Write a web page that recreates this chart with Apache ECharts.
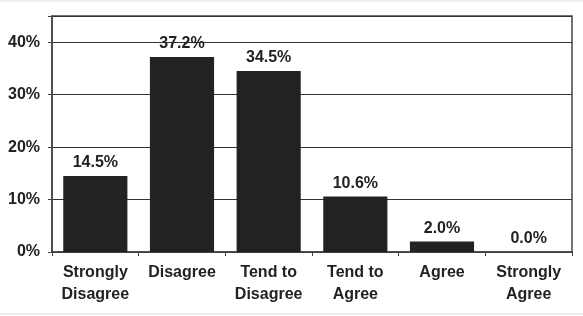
<!DOCTYPE html>
<html><head><meta charset="utf-8">
<script src="https://cdn.jsdelivr.net/npm/echarts@6/dist/echarts.min.js"></script>
<style>html,body{margin:0;padding:0;background:#fff;}#c{width:583px;height:316px;}
.ln{position:absolute;left:0;width:583px;height:2px;background:#eeeeee;}</style>
</head><body><div id="c"></div><div class="ln" style="top:0"></div><div class="ln" style="top:313px"></div>
<script>
const categories = ['Strongly\nDisagree','Disagree','Tend to\nDisagree','Tend to\nAgree','Agree','Strongly\nAgree'];
const values = [14.5, 37.2, 34.5, 10.6, 2.0, 0.0];
const yTicks = [0, 10, 20, 30, 40];

const chart = echarts.init(document.getElementById('c'));
const font = 'Liberation Sans, Arial, sans-serif';
chart.setOption({
  animation: false,
  grid: {left: 52, right: 11, top: 16, bottom: 64, show: true, borderColor: '#444', borderWidth: 1.5, backgroundColor: '#fff'},
  xAxis: {
    type: 'category', data: categories,
    axisLine: {lineStyle: {color: '#444', width: 1.5}},
    axisTick: {show: true, length: 4, lineStyle: {color: '#444'}},
    axisLabel: {interval: 0, hideOverlap: false, color: '#222', fontFamily: font, fontWeight: 'bold', fontSize: 16, lineHeight: 22, margin: 10}
  },
  yAxis: {
    type: 'value', min: 0, max: 45, interval: 10,
    axisLine: {show: true, lineStyle: {color: '#444', width: 1.5}},
    axisTick: {show: true, length: 4, lineStyle: {color: '#444'}},
    splitLine: {lineStyle: {color: '#333', width: 1.2}},
    axisLabel: {color: '#222', fontFamily: font, fontWeight: 'bold', fontSize: 16, margin: 12,
      formatter: v => yTicks.includes(v) ? v + '%' : ''}
  },
  series: [{
    type: 'bar', data: values, barWidth: '74%',
    itemStyle: {color: '#222'},
    label: {show: true, position: 'top', distance: 5, color: '#222', fontFamily: font, fontWeight: 'bold', fontSize: 16,
      formatter: p => p.value.toFixed(1) + '%'}
  }]
});
</script></body></html>
